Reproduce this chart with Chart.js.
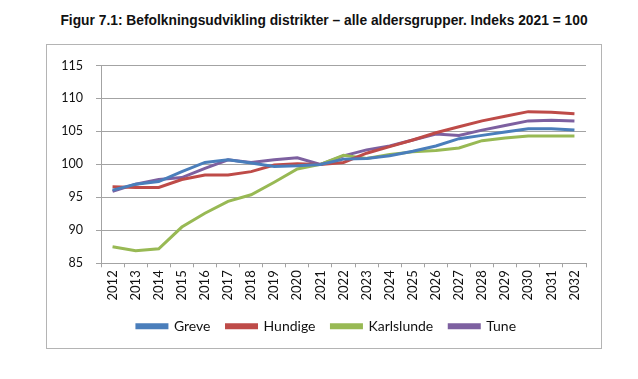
<!DOCTYPE html>
<html>
<head>
<meta charset="utf-8">
<script src="https://cdn.jsdelivr.net/npm/chart.js@4/dist/chart.umd.min.js"></script>
<style>
  html, body { margin: 0; padding: 0; background: #fff; width: 638px; height: 379px; overflow: hidden; }
  #title { position: absolute; left: 46px; width: 556px; top: 12px; text-align: center;
    font-family: "Liberation Sans", Arial, sans-serif; font-weight: bold; font-size: 13.8px; line-height: 18px; color: #111; white-space: nowrap; }
  #box { position: absolute; left: 46px; top: 44px; width: 556px; height: 305px; box-sizing: border-box; border: 1px solid #b4b4b4; }
  #wrap { position: absolute; left: 0; top: 0; width: 554px; height: 303px; }
</style>
</head>
<body>
<div id="title">Figur 7.1: Befolkningsudvikling distrikter – alle aldersgrupper. Indeks 2021 = 100</div>
<div id="box"><div id="wrap"><canvas id="c"></canvas></div></div>
<script>
const years = ["2012","2013","2014","2015","2016","2017","2018","2019","2020","2021","2022","2023","2024","2025","2026","2027","2028","2029","2030","2031","2032"];
const greve      = [96.1, 97.0, 97.4, 98.9, 100.3, 100.7, 100.2, 99.7, 99.8, 100, 100.8, 100.9, 101.3, 102.0, 102.8, 103.9, 104.4, 104.9, 105.4, 105.4, 105.2];
const hundige    = [96.6, 96.5, 96.5, 97.7, 98.4, 98.4, 98.9, 99.9, 100.1, 100, 100.3, 101.7, 102.7, 103.7, 104.8, 105.7, 106.6, 107.3, 108.0, 107.9, 107.7];
const karlslunde = [87.5, 86.9, 87.2, 90.5, 92.6, 94.4, 95.4, 97.3, 99.3, 100, 101.4, 100.9, 101.5, 101.9, 102.1, 102.5, 103.6, 104.0, 104.3, 104.3, 104.3];
const tune       = [95.9, 97.0, 97.7, 98.0, 99.4, 100.7, 100.3, 100.7, 101.0, 100, 101.3, 102.2, 102.8, 103.7, 104.6, 104.4, 105.2, 105.9, 106.6, 106.7, 106.6];
const yTicks = [85, 90, 95, 100, 105, 110, 115];

const seriesNames = ["Greve", "Hundige", "Karlslunde", "Tune"];
const seriesData = [greve, hundige, karlslunde, tune];
const seriesColors = ["#4A7EBB", "#BE4B48", "#98B954", "#7D60A0"];

const gridColor = "#a3a3a3";
const fontFam = "Lato, 'Open Sans', sans-serif";

const legendShift = {
  id: "legendShift",
  afterLayout(chart) {
    const lg = chart.legend;
    if (lg) { lg.left += 10; lg.right += 10; }
  }
};

new Chart(document.getElementById("c"), {
  type: "line",
  data: {
    labels: years,
    datasets: seriesNames.map((n, i) => ({
      label: n,
      data: seriesData[i],
      borderColor: seriesColors[i],
      backgroundColor: seriesColors[i],
      borderWidth: 3,
      pointRadius: 0,
      tension: 0,
      fill: false
    }))
  },
  plugins: [legendShift],
  options: {
    responsive: true,
    maintainAspectRatio: false,
    animation: false,
    layout: { padding: { left: 0, right: 15, top: 11.2, bottom: 4.7 } },
    plugins: {
      title: { display: false },
      tooltip: { enabled: false },
      legend: {
        position: "bottom",
        labels: {
          boxWidth: 30,
          boxHeight: 3,
          padding: 16,
          color: "#111",
          font: { family: fontFam, size: 14 }
        }
      }
    },
    scales: {
      x: {
        offset: true,
        grid: { display: true, offset: true, drawOnChartArea: false, drawTicks: true, tickLength: 4, color: gridColor },
        border: { display: true, color: gridColor },
        ticks: { autoSkip: false, minRotation: 90, maxRotation: 90, padding: 3, color: "#111", font: { family: fontFam, size: 13 } },
        afterFit: (s) => { s.height = 40; }
      },
      y: {
        min: 85, max: 115,
        afterBuildTicks: (s) => { s.ticks = yTicks.map(v => ({ value: v })); },
        grid: { color: gridColor, tickLength: 5, drawTicks: true },
        border: { display: true, color: gridColor },
        ticks: { padding: 13, color: "#111", font: { family: fontFam, size: 12.5 } },
        afterFit: (s) => { s.width = 54; }
      }
    }
  }
});
</script>
</body>
</html>
